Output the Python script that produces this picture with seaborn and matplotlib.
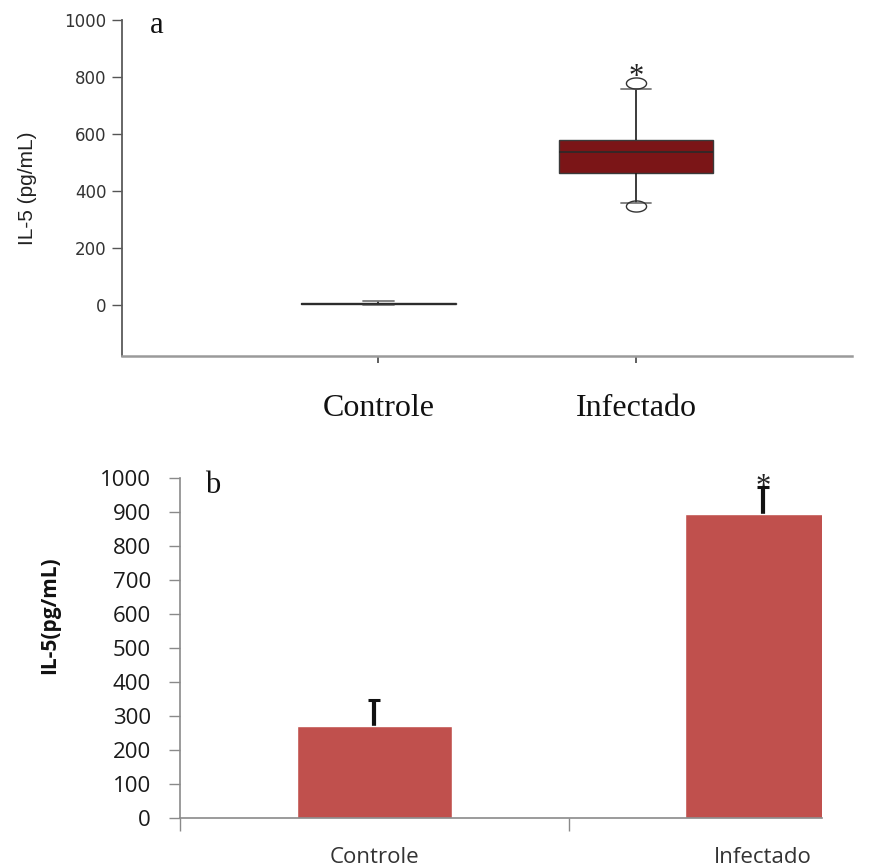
import numpy as np
import pandas as pd
import matplotlib
matplotlib.use("Agg")
import matplotlib.pyplot as plt
from matplotlib.path import Path
import seaborn as sns

# ---- data -------------------------------------------------------------
groups = ["Controle", "Infectado"]

# panel a: individual IL-5 measurements (pg/mL) per group
control_vals = [0, 0, 0, 1, 1, 2, 3, 4, 5, 13, 13]
infected_vals = [347, 358, 455, 471, 510, 535, 556, 572, 586, 758, 778]

# panel b: group means and upper error (pg/mL)
bar_means = [272, 894]
bar_err = [75, 80]

yticks_a = [0, 200, 400, 600, 800, 1000]
yticks_b = [0, 100, 200, 300, 400, 500, 600, 700, 800, 900, 1000]

star_y_a = 773
star_y_b = 951

# ---- style ------------------------------------------------------------
sns.set_theme(style="white")
plt.rcParams["font.family"] = ["DejaVu Sans"]

W, H = 886, 868
fig = plt.figure(figsize=(W / 100, H / 100), dpi=100)

def px_axes(x0, y0, x1, y1):
    return fig.add_axes([x0 / W, 1 - y1 / H, (x1 - x0) / W, (y1 - y0) / H])

# ---- panel a: box plot -----------------------------------------------
ax1 = px_axes(122, 20, 852, 356)

df_a = pd.DataFrame({
    "grupo": [groups[0]] * len(control_vals) + [groups[1]] * len(infected_vals),
    "IL5": control_vals + infected_vals,
})

# flattened ellipse used as outlier marker
t = np.linspace(0, 2 * np.pi, 61)
ellipse = Path(np.column_stack([np.cos(t), 0.55 * np.sin(t)]), closed=True)

sns.boxplot(
    data=df_a, x="grupo", y="IL5", order=groups, ax=ax1,
    color="#7B1517", saturation=1, width=0.6, whis=(5, 95),
    linewidth=1.1, capwidths=0.12,
    boxprops=dict(facecolor="#7B1517", edgecolor="#3a3a3a", linewidth=1.0),
    medianprops=dict(color="#2a2a2a", linewidth=1.2),
    whiskerprops=dict(color="#1a1a1a", linewidth=1.2),
    capprops=dict(color="#7a7a7a", linewidth=1.3),
    flierprops=dict(marker=ellipse, markersize=14.5, markerfacecolor="none",
                    markeredgecolor="#333333", markeredgewidth=1.0),
)

ax1.set_xlim(-0.996, 1.839)
ax1.set_ylim(-181, 1000)
ax1.set_yticks(yticks_a)
ax1.set_yticklabels([str(v) for v in yticks_a], fontsize=12, color="#333333")
ax1.set_xticks([0, 1])
ax1.set_xticklabels(groups, fontsize=23, family="Liberation Serif", color="#111111")
ax1.tick_params(axis="y", direction="out", length=7, width=1, color="#555555",
                pad=4, left=True)
ax1.tick_params(axis="x", direction="out", length=5, width=1.2, color="#444444",
                pad=22, bottom=True)
for side in ("top", "right"):
    ax1.spines[side].set_visible(False)
ax1.spines["left"].set_color("#5a5a5a")
ax1.spines["left"].set_linewidth(1.3)
ax1.spines["bottom"].set_color("#9a9a9a")
ax1.spines["bottom"].set_linewidth(1.8)
ax1.set_xlabel("")
ax1.set_ylabel("IL-5 (pg/mL)", fontsize=15, color="#222222",
               family=["Liberation Sans Narrow", "Liberation Sans"])
ax1.yaxis.set_label_coords(-0.117, 0.5)

ax1.text(0.038, 0.961, "a", transform=ax1.transAxes, fontsize=22,
         family="Liberation Serif", ha="left", va="baseline", color="#111111")
ax1.text(1, star_y_a, "*", fontsize=22, family="Liberation Serif",
         ha="center", va="baseline", color="#222222")

# ---- panel b: bar chart ----------------------------------------------
ax2 = px_axes(180, 478, 822, 818)

df_b = pd.DataFrame({"grupo": groups, "IL5": bar_means})
sns.barplot(data=df_b, x="grupo", y="IL5", order=groups, ax=ax2,
            color="#C0504D", saturation=1, width=0.4, errorbar=None, zorder=2)
# upward-only error bars, drawn behind the bars
_, caps, _ = ax2.errorbar(x=[0, 1], y=bar_means, yerr=[[0, 0], bar_err],
                          fmt="none", ecolor="#111111", elinewidth=3,
                          capsize=4.3, capthick=2.2, zorder=1)
caps[0].remove()  # no cap at the bar top

ax2.set_xlim(-0.5, 1.152)
ax2.set_ylim(0, 1000)
ax2.set_yticks(yticks_b)
ax2.set_yticklabels([str(v) for v in yticks_b], fontsize=16,
                    family="Open Sans", color="#1a1a1a")
ax2.set_xticks([0, 1])
ax2.set_xticklabels(groups, fontsize=16, family="Open Sans", color="#333333")
ax2.set_xticks([-0.5, 0.5], minor=True)
ax2.tick_params(axis="x", which="major", length=0, pad=21)
ax2.tick_params(axis="x", which="minor", direction="out", length=9, width=1,
                color="#8a8a8a", bottom=True)
ax2.tick_params(axis="y", direction="out", length=8, width=1, color="#8a8a8a",
                pad=13, left=True)
for side in ("top", "right"):
    ax2.spines[side].set_visible(False)
for side in ("left", "bottom"):
    ax2.spines[side].set_color("#8a8a8a")
    ax2.spines[side].set_linewidth(1.2)
ax2.set_xlabel("")
ax2.set_ylabel("IL-5(pg/mL)", fontsize=15, fontweight="bold",
               family="Open Sans", color="#111111")
ax2.yaxis.set_label_coords(-0.187, 0.597)

ax2.text(0.039, 0.956, "b", transform=ax2.transAxes, fontsize=22,
         family="Liberation Serif", ha="left", va="baseline", color="#111111")
ax2.text(1, star_y_b, "*", fontsize=22, family="Liberation Serif",
         ha="center", va="baseline", color="#222222")

fig.savefig("out.png", dpi=100)
